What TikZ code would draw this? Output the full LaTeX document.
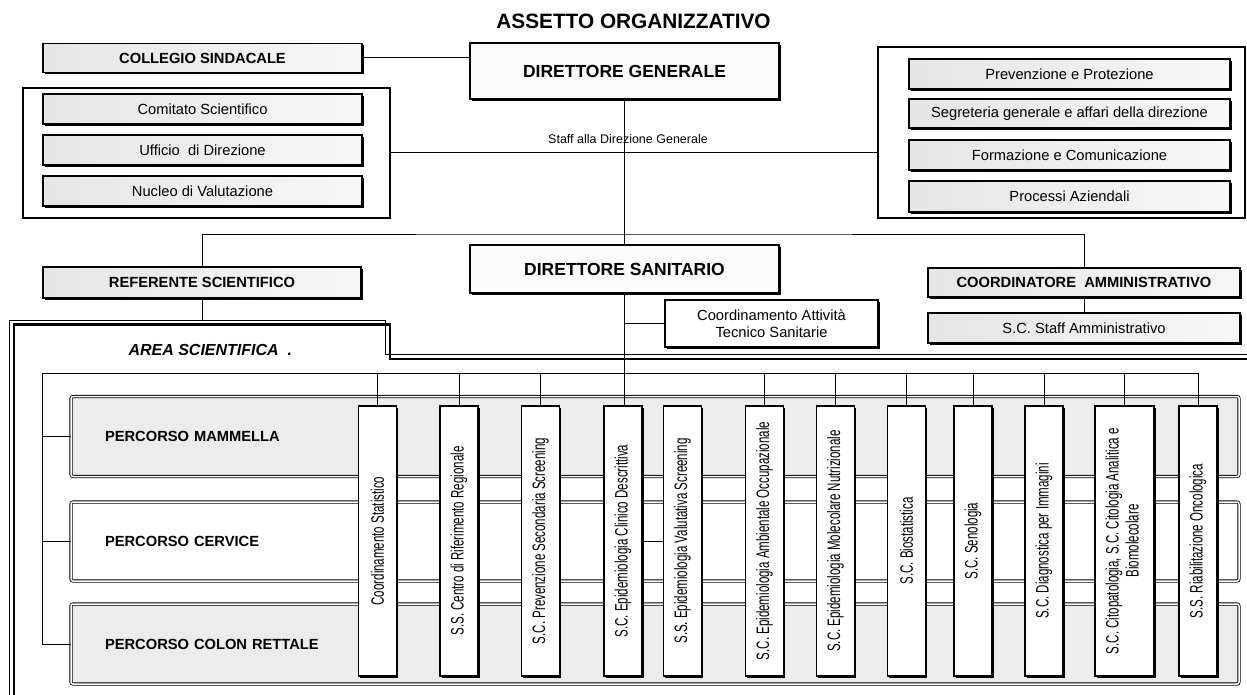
\documentclass[tikz,border=0pt]{standalone}
\usepackage{fontspec}
\setmainfont{Liberation Sans}
\newfontfamily\narrowfont[FakeStretch=0.64]{Liberation Sans}
\usetikzlibrary{shadows}
\newcommand\fsz{\fontsize{14.7}{17}\selectfont}
\newcommand\vfsz{\narrowfont\fontsize{18}{20}\selectfont}
\begin{document}
\begin{tikzpicture}[x=1pt,y=-1pt,
  box/.style={draw, line width=1.1pt, inner sep=0pt, fill=white, font=\fsz,
    drop shadow={shadow xshift=1.6pt, shadow yshift=-1.6pt, opacity=1, fill=black}},
  grad/.style={left color=gray!20, middle color=white, right color=gray!6},
  bbox/.style={box, grad, font=\fsz\bfseries},
  rbox/.style={box, grad, font=\fsz},
  frame/.style={draw, line width=1.1pt, inner sep=0pt},
  conn/.style={line width=1pt},
  perc/.style={draw, double, double distance=1.5pt, line width=0.8pt, rounded corners=2pt,
    minimum width=1168pt, minimum height=80pt, inner xsep=33pt, text width=1100pt,
    align=left, font=\fsz\bfseries},
  vbox/.style={box, minimum width=38pt, minimum height=270pt, font=\vfsz}
]
\fill[white] (0,0) rectangle (1247,695);
\useasboundingbox (0,0) rectangle (1247,695);

% title
\node[font=\fontsize{20.8}{23}\selectfont\bfseries] (title) at (633.5,21) {ASSETTO ORGANIZZATIVO};

% staff frames
\node[frame, minimum width=367pt, minimum height=130pt] (stl) at (206.5,153) {};
\node[frame, minimum width=367pt, minimum height=171pt] (str) at (1061.5,132.5) {};

% top level
\node[bbox, minimum width=319pt, minimum height=29pt] (cs) at (202.5,58) {COLLEGIO SINDACALE};
\node[box, fill=gray!3, font=\fontsize{17.5}{20}\selectfont\bfseries, minimum width=309pt, minimum height=56pt] (dg) at (624.5,71) {DIRETTORE GENERALE};

\node[rbox, minimum width=319pt, minimum height=30pt] (com) at (202.5,109) {Comitato Scientifico};
\node[rbox, minimum width=319pt, minimum height=30pt] (uff) at (202.5,150) {Ufficio\ \ di Direzione};
\node[rbox, minimum width=319pt, minimum height=30pt] (nuc) at (202.5,191) {Nucleo di Valutazione};

\node[rbox, minimum width=321pt, minimum height=30pt] (prev) at (1069.5,74) {Prevenzione e Protezione};
\node[rbox, minimum width=321pt, minimum height=29pt] (segr) at (1069.5,113.5) {Segreteria generale e affari della direzione};
\node[rbox, minimum width=321pt, minimum height=30pt] (form) at (1069.5,155) {Formazione e Comunicazione};
\node[rbox, minimum width=321pt, minimum height=31pt] (proc) at (1069.5,196.5) {Processi Aziendali};

\node[font=\fontsize{12.5}{14}\selectfont] (stafflbl) at (628,139) {Staff alla Direzione Generale};

% second level
\node[bbox, minimum width=318pt, minimum height=31pt] (rs) at (202,282.5) {REFERENTE SCIENTIFICO};
\node[box, fill=gray!3, font=\fontsize{17.5}{20}\selectfont\bfseries, minimum width=309pt, minimum height=48pt] (ds) at (624.5,269) {DIRETTORE SANITARIO};
\node[box, align=center, minimum width=213pt, minimum height=47pt] (cats) at (771.5,323.5) {Coordinamento Attività\\Tecnico Sanitarie};
\node[bbox, minimum width=312pt, minimum height=29pt] (ca) at (1084,282.5) {COORDINATORE\ \ AMMINISTRATIVO};
\node[rbox, minimum width=312pt, minimum height=30pt] (sca) at (1084,328) {S.C. Staff Amministrativo};

% area scientifica frame
\draw[line width=0.8pt] (9,695) -- (9,320) -- (385,320) -- (385,354) -- (1247,354);
\draw[line width=2.4pt] (14,695) -- (14,324.5) -- (390,324.5) -- (390,359) -- (1247,359);
\node[font=\fontsize{16}{18}\selectfont\bfseries\itshape, anchor=west] (area) at (125,350) {AREA SCIENTIFICA\ \ .};

% percorsi
\node[perc, fill=gray!15] (pm) at (655,436.5) {PERCORSO MAMMELLA};
\node[perc, fill=white, minimum height=79pt] (pc) at (655,541.5) {PERCORSO CERVICE};
\node[perc, fill=gray!15] (pcr) at (655,644) {PERCORSO COLON RETTALE};

% strutture
\node[vbox] (v1) at (377.5,541) {\rotatebox{90}{Coordinamento Statistico}};
\node[vbox] (v2) at (459,541) {\rotatebox{90}{S.S. Centro di Riferimento Regionale}};
\node[vbox] (v3) at (540.5,541) {\rotatebox{90}{S.C. Prevenzione Secondaria Screening}};
\node[vbox] (v4) at (623,541) {\rotatebox{90}{S.C. Epidemiologia Clinico Descrittiva}};
\node[vbox] (v5) at (682.5,541) {\rotatebox{90}{S.S. Epidemiologia Valutativa Screening}};
\node[vbox] (v6) at (764.5,541) {\rotatebox{90}{S.C. Epidemiologia Ambientale Occupazionale}};
\node[vbox] (v7) at (835.5,541) {\rotatebox{90}{S.C. Epidemiologia Molecolare Nutrizionale}};
\node[vbox] (v8) at (906.5,541) {\rotatebox{90}{S.C. Biostatistica}};
\node[vbox] (v9) at (973,541) {\rotatebox{90}{S.C. Senologia}};
\node[vbox] (v10) at (1044,541) {\rotatebox{90}{S.C. Diagnostica per Immagini}};
\node[vbox, minimum width=59pt] (v11) at (1124.5,541) {\rotatebox{90}{\begin{tabular}{@{}c@{}}S.C. Citopatologia, S.C. Citologia Analitica e\\Biomolecolare\end{tabular}}};
\node[vbox] (v12) at (1198,541) {\rotatebox{90}{S.S. Riabilitazione Oncologica}};

% connectors
\draw[conn] (cs.east) -- (cs.east -| dg.west);
\draw[conn] (dg.south) -- (ds.north);
\draw[conn] (stl.east) -- (stl.east -| str.west);
\coordinate (split) at (dg.south |- 0,234);
\draw[conn] (rs.north) |- (split) -| (ca.north);
\draw[conn] (ca.south) -- (sca.north);
\draw[conn] (ds.south) -- (ds.south |- v4.north);
\draw[conn] (ds.south |- cats.west) -- (cats.west);
\coordinate (areatop) at (rs.south |- 0,321);
\draw[conn] (rs.south) -- (areatop);
\coordinate (busL) at (42,373);
\draw[conn] (busL) -- (busL -| v12.north);
\foreach \v in {v1,v2,v3,v6,v7,v8,v9,v10,v11,v12} \draw[conn] (\v.north |- busL) -- (\v.north);
\draw[conn] (busL) |- (pcr.west);
\draw[conn] (busL |- pm.west) -- (pm.west);
\draw[conn] (busL |- pc.west) -- (pc.west);
\draw[conn] (v4.east) -- (v5.west);
\end{tikzpicture}
\end{document}
